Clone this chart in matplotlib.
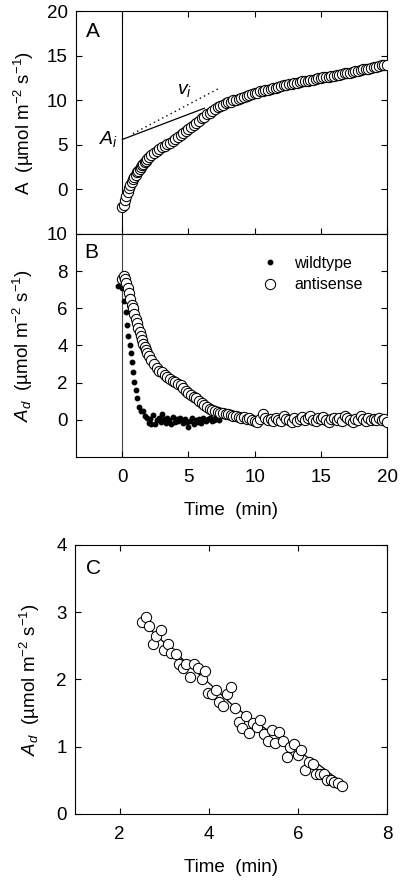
import numpy as np
import matplotlib
matplotlib.use("Agg")
import matplotlib.pyplot as plt
from matplotlib.lines import Line2D

plt.rcParams['font.family'] = ['Liberation Sans', 'DejaVu Sans']
plt.rcParams['mathtext.fontset'] = 'custom'
plt.rcParams['mathtext.rm'] = 'Liberation Sans'
plt.rcParams['mathtext.it'] = 'Liberation Sans:italic'
plt.rcParams['mathtext.bf'] = 'Liberation Sans:bold'

# ---------------- data ----------------
# sampling grid (min): 0-1.9 every 0.1, then 2.0-20.0 every 0.2
time_fine = np.round(np.arange(0, 1.95, 0.1), 2)
time_coarse = np.round(np.arange(2.0, 20.01, 0.2), 2)
time_grid = np.concatenate([time_fine, time_coarse])

# Panel A: net assimilation, antisense
A_values = [
    -2.0, -1.7, -1.2, -0.75, -0.3, 0.15, 0.5, 0.85, 1.15, 1.4,
    1.65, 1.9, 2.1, 2.3, 2.5, 2.7, 2.85, 3.05, 3.2, 3.4,
    3.6, 3.85, 4.1, 4.35, 4.55, 4.75, 4.9, 5.05, 5.25, 5.45,
    5.65, 5.85, 6.1, 6.35, 6.55, 6.8, 7.0, 7.25, 7.45, 7.7,
    7.95, 8.15, 8.4, 8.6, 8.8, 9.0, 9.2, 9.4, 9.5, 9.65,
    9.75, 9.85, 10.0, 10.05, 10.15, 10.3, 10.35, 10.45, 10.6, 10.65,
    10.8, 10.85, 11.0, 11.05, 11.1, 11.2, 11.25, 11.35, 11.4, 11.5,
    11.55, 11.65, 11.7, 11.8, 11.85, 11.95, 11.9, 12.05, 12.1, 12.15,
    12.2, 12.3, 12.3, 12.4, 12.45, 12.5, 12.55, 12.6, 12.65, 12.7,
    12.75, 12.8, 12.85, 12.95, 13.0, 13.05, 13.1, 13.2, 13.25, 13.3,
    13.35, 13.45, 13.5, 13.55, 13.65, 13.7, 13.75, 13.85, 13.9, 13.95,
    14.0,
]

# Panel B: A_d antisense (same grid)
Ad_antisense = [
    7.6, 7.75, 7.6, 7.35, 7.1, 6.8, 6.5, 6.2, 6.0, 5.7,
    5.45, 5.2, 4.95, 4.75, 4.5, 4.3, 4.1, 3.9, 3.75, 3.6,
    3.45, 3.2, 3.0, 2.8, 2.65, 2.55, 2.4, 2.3, 2.2, 2.1,
    2.05, 1.95, 1.85, 1.7, 1.55, 1.45, 1.35, 1.25, 1.15, 1.0,
    0.9, 0.8, 0.7, 0.6, 0.55, 0.45, 0.4, 0.35, 0.35, 0.3,
    0.3, 0.25, 0.2, 0.2, 0.15, 0.1, 0.15, 0.05, 0.1, 0.0,
    -0.05, -0.1, 0.05, 0.3, 0.1, 0.0, 0.05, -0.05, 0.1, 0.0,
    -0.05, 0.2, 0.05, 0.0, -0.1, 0.1, -0.05, 0.05, 0.15, 0.0,
    0.1, 0.2, 0.0, -0.05, 0.1, 0.05, 0.15, 0.0, -0.1, 0.05,
    0.1, 0.0, 0.1, -0.05, 0.2, 0.1, 0.0, -0.1, 0.05, 0.0,
    0.2, 0.05, -0.05, 0.1, 0.0, 0.05, 0.0, 0.1, 0.0, 0.05,
    -0.1,
]

# Panel B: A_d wildtype
time_wt = [
    -0.3, 0.0, 0.15, 0.25, 0.35, 0.45, 0.55, 0.63, 0.72, 0.8,
    0.9, 1.0, 1.1, 1.25, 1.4, 1.55, 1.7, 1.85, 2.0, 2.1,
    2.2, 2.35, 2.5, 2.6, 2.75, 2.9, 3.0, 3.15, 3.3, 3.4,
    3.55, 3.7, 3.8, 3.95, 4.1, 4.2, 4.35, 4.5, 4.6, 4.75,
    4.9, 5.0, 5.15, 5.3, 5.4, 5.55, 5.7, 5.8, 5.95, 6.1,
    6.2, 6.35, 6.5, 6.6, 6.75, 6.9, 7.0, 7.15, 7.3,
]
Ad_wildtype = [
    7.2, 7.1, 6.4, 5.8, 5.1, 4.5, 4.0, 3.6, 3.1, 2.55,
    2.05, 1.6, 1.15, 0.7, 0.45, 0.5, 0.2, 0.1, -0.15, 0.05,
    -0.2, 0.25, -0.25, 0.0, 0.1, -0.1, 0.3, 0.05, -0.15, 0.1,
    0.0, -0.2, 0.15, -0.1, 0.05, -0.05, 0.1, 0.0, -0.15, 0.05,
    -0.1, -0.4, -0.05, 0.1, -0.2, 0.0, -0.1, 0.05, -0.15, 0.1,
    0.0, -0.05, 0.05, 0.1, -0.05, 0.0, 0.05, 0.1, 0.0,
]

# Panel A: tangent / chord lines
chord_t = [0.0, 6.2]
chord_A = [5.6, 9.1]
tangent_t = [0.8, 7.4]
tangent_A = [6.25, 11.4]

# Panel C: A_d antisense 2.5-7 min
time_C = [
    2.51, 2.60, 2.67, 2.76, 2.82, 2.93, 3.00, 3.09, 3.16, 3.26,
    3.33, 3.42, 3.50, 3.58, 3.67, 3.75, 3.84, 3.92, 3.99, 4.07,
    4.16, 4.24, 4.32, 4.42, 4.49, 4.58, 4.67, 4.74, 4.83, 4.91,
    5.00, 5.08, 5.16, 5.24, 5.33, 5.41, 5.49, 5.58, 5.66, 5.75,
    5.83, 5.91, 6.00, 6.08, 6.16, 6.25, 6.33, 6.41, 6.49, 6.58,
    6.66, 6.74, 6.82, 6.91, 6.99,
]
Ad_C = [
    2.85, 2.93, 2.80, 2.53, 2.64, 2.73, 2.44, 2.53, 2.39, 2.38,
    2.23, 2.17, 2.23, 2.04, 2.23, 2.17, 2.00, 2.12, 1.80, 1.79,
    1.85, 1.67, 1.61, 1.79, 1.89, 1.57, 1.37, 1.28, 1.45, 1.21,
    1.35, 1.29, 1.40, 1.19, 1.08, 1.25, 1.05, 1.22, 1.09, 0.85,
    1.00, 1.04, 0.88, 0.95, 0.66, 0.78, 0.74, 0.59, 0.59, 0.59,
    0.51, 0.50, 0.48, 0.46, 0.41,
]
fit_t = [2.5, 3.0, 3.5, 4.0, 4.5, 5.0, 5.5, 6.0, 6.5, 7.0]
fit_Ad = [2.86, 2.55, 2.25, 1.95, 1.64, 1.39, 1.17, 0.94, 0.72, 0.46]

# ---------------- figure ----------------
fig = plt.figure(figsize=(4.0, 8.82), dpi=100)
axA = fig.add_axes([0.19, 0.7347, 0.7775, 0.2528])
axB = fig.add_axes([0.19, 0.4819, 0.7775, 0.2528])
axC = fig.add_axes([0.1875, 0.0771, 0.78, 0.305])

TICK_FS = 13.5
LABEL_FS = 13.5
LETTER_FS = 15
LW = 0.8
circ = dict(marker='o', linestyle='none', markersize=7.4, markerfacecolor='white',
            markeredgecolor='black', markeredgewidth=0.75)

for ax in (axA, axB, axC):
    for sp in ax.spines.values():
        sp.set_linewidth(LW)
    ax.tick_params(direction='in', length=4.5, width=LW, labelsize=TICK_FS,
                   top=True, right=True)

# Panel A
axA.axvline(0, color='black', lw=LW, zorder=1)
axA.plot(chord_t, chord_A, color='black', lw=0.9, zorder=2)
axA.plot(tangent_t, tangent_A, color='black', lw=1.0, linestyle=(0, (1, 2.4)), zorder=2)
axA.plot(time_grid, A_values, zorder=3, **circ)
axA.set_xlim(-3.5, 20)
axA.set_ylim(-5, 20)
axA.set_xticks([0, 5, 10, 15, 20])
axA.set_yticks([0, 5, 10, 15, 20])
axA.tick_params(axis='x', labelbottom=False)
axA.tick_params(axis='y', pad=6)
axA.set_ylabel('A  (µmol m$^{-2}$ s$^{-1}$)', fontsize=LABEL_FS)
axA.yaxis.set_label_coords(-0.13, 0.5)
axA.text(0.055, 0.906, 'A', transform=axA.transAxes, fontsize=LETTER_FS,
         ha='center', va='center')
axA.text(-0.3, 5.7, '$A_i$', fontsize=14, ha='right', va='center')
axA.text(4.7, 11.1, '$v_i$', fontsize=14, ha='center', va='center')

# Panel B
axB.axvline(0, color='#444444', lw=LW, zorder=1)
axB.plot(time_wt, Ad_wildtype, marker='o', linestyle='none', markersize=3.2,
         color='black', zorder=3)
axB.plot(time_grid, Ad_antisense, zorder=4, **circ)
axB.set_xlim(-3.5, 20)
axB.set_ylim(-2, 10)
axB.set_xticks([0, 5, 10, 15, 20])
axB.set_yticks([0, 2, 4, 6, 8, 10])
axB.tick_params(axis='x', top=False, pad=9)
axB.tick_params(axis='y', pad=6)
axB.set_ylabel('$A_d$  (µmol m$^{-2}$ s$^{-1}$)', fontsize=LABEL_FS)
axB.yaxis.set_label_coords(-0.133, 0.5)
axB.set_xlabel('Time  (min)', fontsize=LABEL_FS, labelpad=11)
axB.text(0.048, 0.917, 'B', transform=axB.transAxes, fontsize=LETTER_FS,
         ha='center', va='center')
handles = [
    Line2D([], [], marker='o', linestyle='none', markersize=3.2, color='black'),
    Line2D([], [], **circ),
]
axB.legend(handles, ['wildtype', 'antisense'], loc='upper left',
           bbox_to_anchor=((262 - 76) / 311, 1 - (256 - 234) / 223),
           frameon=False, borderaxespad=0, borderpad=0, handlelength=1.0,
           handletextpad=1.0, labelspacing=0.4, fontsize=11.5)

# Panel C
axC.plot(fit_t, fit_Ad, color='black', lw=0.9, zorder=2)
axC.plot(time_C, Ad_C, zorder=3, **circ)
axC.set_xlim(1, 8)
axC.set_ylim(0, 4)
axC.set_xticks([2, 4, 6, 8])
axC.set_yticks([0, 1, 2, 3, 4])
axC.tick_params(axis='x', pad=9)
axC.tick_params(axis='y', pad=6)
axC.set_ylabel('$A_d$  (µmol m$^{-2}$ s$^{-1}$)', fontsize=LABEL_FS)
axC.yaxis.set_label_coords(-0.105, 0.5)
axC.set_xlabel('Time  (min)', fontsize=LABEL_FS, labelpad=11)
axC.text(0.058, 0.914, 'C', transform=axC.transAxes, fontsize=LETTER_FS,
         ha='center', va='center')

fig.savefig('out.png', dpi=100)
